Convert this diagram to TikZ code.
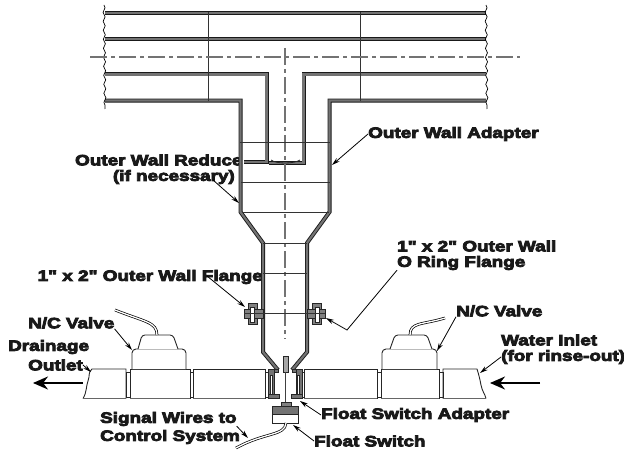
\documentclass[tikz,border=0pt]{standalone}
\usepackage{fontspec}
\newfontfamily\labfont{Liberation Sans}[UprightFont=* Bold,FakeStretch=1.26,FakeBold=5.5]
\usetikzlibrary{arrows.meta,decorations.pathmorphing}
\tikzset{
 wall/.style={line width=0.9pt,draw=black!90,double=black!55,double distance=2.2pt,line join=miter},
 thin line/.style={draw=black!85,line width=0.9pt},
 hline/.style={draw=black!80,line width=1pt},
 center line/.style={draw=black!55,line width=1.2pt,dash pattern=on 17pt off 4pt on 4pt off 4pt},
 brk/.style={draw=black,line width=0.7pt,decorate,decoration={snake,amplitude=1pt,segment length=9pt}},
 lab/.style={font=\fontsize{15}{17}\labfont,text=black!90,inner sep=0pt,align=left,anchor=west},
 lead/.style={draw=black,line width=0.8pt,-{Stealth[length=8pt,width=4.5pt]}},
 flow/.style={draw=black,line width=2pt,-{Stealth[length=15pt,width=13pt]}},
 pipeseg/.style={draw=black!85,line width=0.8pt,fill=white},
 botedge/.style={draw=black!60,line width=1.5pt},
 wire/.style={line width=0.7pt,draw=black,double=white,double distance=1.3pt},
 grayfill/.style={draw=black!85,line width=0.7pt,fill=black!50},
 lip/.style={draw=black!85,line width=0.7pt,fill=black!55},
}
\begin{document}
\begin{tikzpicture}[x=1pt,y=-1pt]
\useasboundingbox (0,0) rectangle (624,452);
% texts under the walls
\node[lab,anchor=east] (reducer) at (250,160) {Outer Wall Reducer};
\node[lab,anchor=east] (necessary) at (235,177) {(if necessary)};
\node[lab,anchor=east] (wflange) at (263,277) {1" x 2" Outer Wall Flange};
\fill[white] (242,144) rectangle (258,181);
\fill[white] (264,265) rectangle (272,290);
% coordinates
\coordinate (tipA) at (332,165);
\coordinate (tipR) at (239,203);
\coordinate (tipF) at (245,307);
\coordinate (tipO) at (326,318);
\coordinate (bendO) at (347,330);
\coordinate (tipV1) at (132,350);
\coordinate (tipV2) at (437,351);
\coordinate (tipD) at (91,372);
\coordinate (tipW) at (480,373);
\coordinate (tipS) at (248,438);
\coordinate (tipFA) at (300,401);
\coordinate (tipFS) at (293,425);
\coordinate (fromF) at (207,276);
\coordinate (fromR) at (213,180);
% upper pipes
\draw[wall] (105,13) -- (486,13);
\draw[wall] (105,39) -- (486,39);
\draw[wall] (105,74.5) -- (266.5,74.5) -- (266.5,162) -- (244,162);
\draw[wall] (486,74.5) -- (303.5,74.5) -- (303.5,163) -- (269,163);
\draw[wall] (105,100.5) -- (240.5,100.5) -- (240.5,212) -- (263,243) -- (263,352) -- (278,370);
\draw[wall] (486,100.5) -- (329.5,100.5) -- (329.5,212) -- (307,243) -- (307,352) -- (292,370);
\draw[draw=black!85,line width=0.8pt] (271,160) .. controls (276,164) and (294,164) .. (300,160);
\draw[hline] (208,12) -- (208,101);
\draw[hline] (360,12) -- (360,101);
\draw[brk] (104,5) -- (105,109);
\draw[brk] (486,5) -- (487,109);
\draw[center line] (90,57) -- (520,57);
\draw[center line] (285,48) -- (285,339);
\draw[hline] (240,142) -- (330,142);
\draw[hline] (241,182) -- (330,182);
\draw[hline] (242,212) -- (329,212);
\draw[hline] (263,243) -- (307,243);
\draw[hline] (263,273) -- (307,273);
% flanges
\draw[grayfill] (248,303) rectangle (257,324);
\draw[grayfill] (244,309) rectangle (263,318);
\draw[draw=black!85,fill=white,line width=0.5pt] (250,307) rectangle (254,322);
\draw[grayfill] (312,303) rectangle (321,324);
\draw[grayfill] (307,309) rectangle (325,318);
\draw[draw=black!85,fill=white,line width=0.5pt] (315,307) rectangle (319,322);
\draw[hline] (244,313) -- (325,313);
% bottom pipe
\draw[pipeseg] (126,372) rectangle (130,397);
\draw[pipeseg] (190,372) rectangle (193,397);
\draw[pipeseg] (377,372) rectangle (381,397);
\draw[pipeseg] (439,372) rectangle (443,397);
\draw[pipeseg] (265,372) rectangle (269,397);
\draw[pipeseg] (301,372) rectangle (304,397);
\draw[thin line] (83,398.5) .. controls (87,392) and (86,386) .. (88,381) .. controls (90,376) and (88,372) .. (92,369) -- (126,369) -- (126,398.5);
\draw[botedge] (83,398.5) -- (126,398.5);
\draw[thin line] (130,398.5) -- (130,369) -- (190,369) -- (190,398.5);
\draw[botedge] (130,398.5) -- (190,398.5);
\draw[thin line] (193,398.5) -- (193,369) -- (265,369) -- (265,398.5);
\draw[botedge] (193,398.5) -- (265,398.5);
\draw[thin line] (304,398.5) -- (304,369) -- (377,369) -- (377,398.5);
\draw[botedge] (304,398.5) -- (377,398.5);
\draw[thin line] (381,398.5) -- (381,369) -- (439,369) -- (439,398.5);
\draw[botedge] (381,398.5) -- (439,398.5);
\draw[thin line] (443,398.5) -- (443,369) -- (477,369) .. controls (479,375) and (480,380) .. (481,385) .. controls (482,391) and (485,394) .. (486,398.5);
\draw[botedge] (443,398.5) -- (486,398.5);
% valves
\draw[thin line,rounded corners=4pt,fill=white] (132,369) -- (132,349) -- (186,349) -- (186,369);
\draw[thin line,rounded corners=3pt,fill=white] (138,349) -- (142,335) -- (173,335) -- (178,349);
\draw[thin line,rounded corners=4pt,fill=white] (382,369) -- (382,349) -- (437,349) -- (437,369);
\draw[thin line,rounded corners=3pt,fill=white] (390,349) -- (395,335) -- (427,335) -- (432,349);
\draw[wire] (157,335) .. controls (157,322) and (145,322) .. (115,310);
\draw[wire] (410,335) .. controls (410,322) and (422,325) .. (445,318);
% float switch adapter
\draw[lip] (270,369.5) rectangle (278,372.5);
\draw[lip] (268,369.5) rectangle (274,398);
\draw[draw=black!85,fill=white,line width=0.5pt] (270.5,375) rectangle (272.5,394);
\draw[lip] (268,394.5) rectangle (279,398);
\draw[lip] (292,369.5) rectangle (300,372.5);
\draw[lip] (296,369.5) rectangle (302,398);
\draw[draw=black!85,fill=white,line width=0.5pt] (297.5,375) rectangle (299.5,394);
\draw[lip] (291,394.5) rectangle (302,398);
\draw[draw=black!85,fill=black!35,line width=0.6pt] (283,356) rectangle (288,372);
\draw[draw=black!75,line width=1.7pt] (285.5,372) -- (285.5,402);
\draw[grayfill] (281,402) rectangle (291,406);
\draw[draw=black!85,fill=black!55,line width=0.7pt] (272.5,406) rectangle (298,414.5);
\draw[draw=black!85,fill=white,line width=0.7pt] (272.5,414.5) rectangle (298,423);
\draw[wire] (286,423) .. controls (285,436) and (265,432) .. (236,448);
% labels
\node[lab] (adapter) at (368,134) {Outer Wall Adapter};
\node[lab] (oring1) at (397,246) {1" x 2" Outer Wall};
\node[lab] (oring2) at (397,263) {O Ring Flange};
\node[lab] (valve1) at (28,323) {N/C Valve};
\node[lab] (valve2) at (456,311) {N/C Valve};
\node[lab] (drain) at (8,347) {Drainage};
\node[lab] (outlet) at (28,365) {Outlet};
\node[lab] (water) at (501,340) {Water Inlet};
\node[lab] (rinse) at (501,357) {(for rinse-out)};
\node[lab] (signal) at (100,419) {Signal Wires to};
\node[lab] (control) at (100,437) {Control System};
\node[lab] (fsa) at (321,415) {Float Switch Adapter};
\node[lab] (fs) at (314,441) {Float Switch};
% leaders
\draw[lead] (adapter.west) -- (tipA);
\draw[lead] (fromR) -- (tipR);
\draw[lead] (fromF) -- (tipF);
\draw[lead] (oring2.south west) -- (bendO) -- (tipO);
\draw[lead] (valve1.south east) -- (tipV1);
\draw[lead] (valve2.south west) -- (tipV2);
\draw[lead] (outlet.east) -- (tipD);
\draw[lead] (rinse.west) -- (tipW);
\draw[lead] (signal.south east) -- (tipS);
\draw[lead] (fsa.west) -- (tipFA);
\draw[lead] (fs.west) -- (tipFS);
% flow arrows
\coordinate (dA) at (83,383); \coordinate (dB) at (33,383);
\coordinate (wA) at (540,383); \coordinate (wB) at (490,383);
\draw[flow] (dA) -- (dB);
\draw[flow] (wA) -- (wB);
\end{tikzpicture}
\end{document}
